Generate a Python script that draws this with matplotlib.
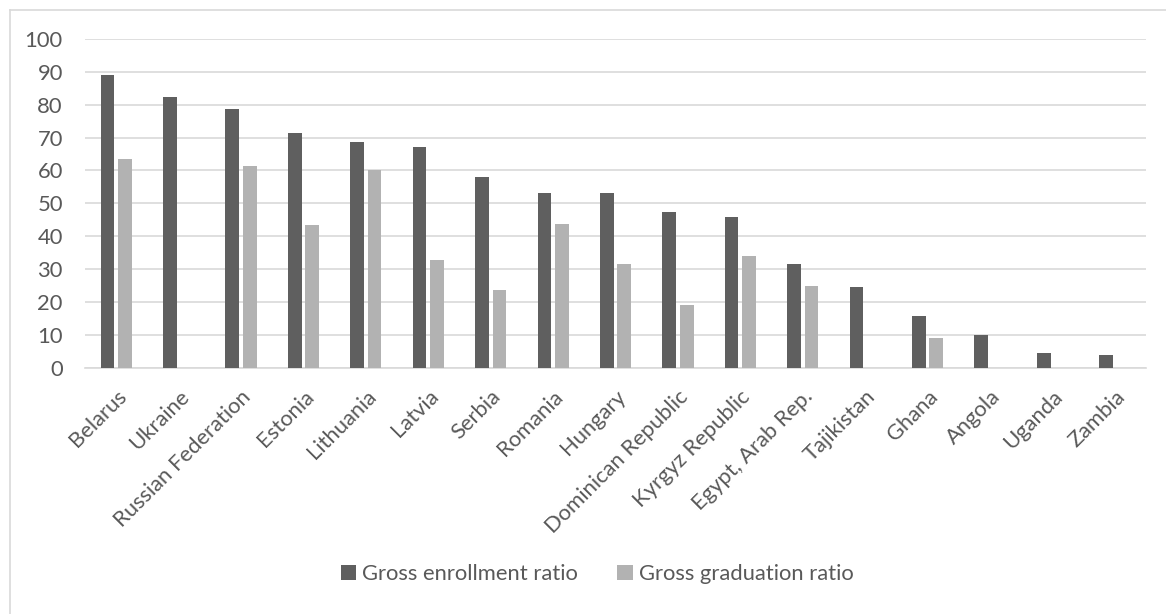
import numpy as np
import matplotlib.pyplot as plt
from matplotlib.lines import Line2D

countries = ["Belarus", "Ukraine", "Russian Federation", "Estonia", "Lithuania",
             "Latvia", "Serbia", "Romania", "Hungary", "Dominican Republic",
             "Kyrgyz Republic", "Egypt, Arab Rep.", "Tajikistan", "Ghana",
             "Angola", "Uganda", "Zambia"]
enrollment = [88.9, 82.3, 78.7, 71.4, 68.7, 67.0, 58.0, 53.3, 53.2, 47.5,
              45.9, 31.6, 24.6, 15.9, 10.0, 4.7, 3.9]
graduation = [63.6, np.nan, 61.5, 43.5, 60.0, 32.7, 23.7, 43.9, 31.6, 19.1,
              34.0, 25.0, np.nan, 9.1, np.nan, np.nan, np.nan]
yticks = list(range(0, 101, 10))

DARK = "#5f5f5f"
LIGHT = "#b2b2b2"
GRID = "#d9d9d9"
TEXT = "#595959"
FS = 15.8

plt.rcParams["font.family"] = ["Lato", "DejaVu Sans"]


def main():
    fig = plt.figure(figsize=(11.66, 6.14), dpi=100)
    ax = fig.add_axes([0.0729, 0.4002, 0.91, 0.5369])

    x = np.arange(len(countries))
    w = 0.22
    ax.bar(x - 0.14, enrollment, w, color=DARK, label="Gross enrollment ratio", zorder=3)
    ax.bar(x + 0.14, graduation, w, color=LIGHT, label="Gross graduation ratio", zorder=3)

    ax.set_xlim(-0.5, len(countries) - 0.5)
    ax.set_ylim(0, 100)
    ax.set_yticks(yticks)
    ax.set_yticklabels([str(v) for v in yticks], fontsize=FS, color=TEXT)
    ax.yaxis.grid(True, color=GRID, linewidth=1.2, zorder=0)
    ax.tick_params(length=0)
    ax.tick_params(axis="y", pad=16)

    ax.set_xticks(x)
    ax.set_xticklabels(countries, rotation=45, ha="right", va="top",
                       rotation_mode="anchor", fontsize=FS, color=TEXT)
    ax.tick_params(axis="x", pad=13)

    for side in ["top", "right", "left"]:
        ax.spines[side].set_visible(False)
    ax.spines["bottom"].set_color(GRID)
    ax.spines["bottom"].set_linewidth(1.2)

    ax.legend(loc="center", bbox_to_anchor=(597 / 1166, 1 - 574 / 614),
              bbox_transform=fig.transFigure, ncol=2, frameon=False,
              fontsize=FS, labelcolor=TEXT, handlelength=0.72, handleheight=0.72,
              handletextpad=0.25, columnspacing=1.8)

    # outer chart frame (only top and left edges fall inside the image)
    fx, fy = 9.5 / 1166, 1 - 9.5 / 614
    fig.add_artist(Line2D([fx, 1], [fy, fy], color=GRID, linewidth=1.2))
    fig.add_artist(Line2D([fx, fx], [0, fy], color=GRID, linewidth=1.2))

    fig.savefig("out.png", dpi=100)


if __name__ == '__main__':
    main()
